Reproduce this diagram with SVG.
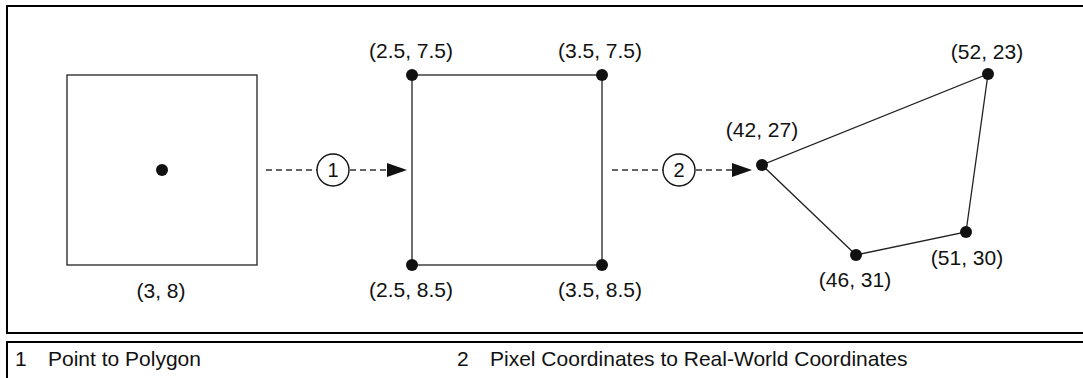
<svg xmlns="http://www.w3.org/2000/svg" width="1083" height="378" viewBox="0 0 1083 378">
  <style>
    .frame { fill: none; stroke: #000; stroke-width: 2; }
    .shape { fill: none; stroke: #222; stroke-width: 1.3; }
    .dot { fill: #111; }
    .dash { fill: none; stroke: #333; stroke-width: 1.4; stroke-dasharray: 6 4; }
    .head { fill: #111; }
    .badge { fill: #fff; stroke: #111; stroke-width: 1.4; }
    .lbl { font-family: "Liberation Sans", Arial, sans-serif; font-size: 21px; fill: #111; text-anchor: middle; }
    .num { font-family: "Liberation Sans", Arial, sans-serif; font-size: 20px; fill: #111; text-anchor: middle; }
    .cap { font-family: "Liberation Sans", Arial, sans-serif; font-size: 21px; fill: #111; }
  </style>
  <rect width="1083" height="378" fill="#fff"/>
  <!-- frames -->
  <path class="frame" d="M1090 6 H7 V333 H1090"/>
  <path class="frame" d="M1090 342 H7 V385"/>

  <g id="node-point">
    <rect class="shape" x="67" y="75" width="190" height="190"/>
    <circle class="dot" cx="162" cy="170" r="6"/>
    <text class="lbl" x="161" y="298">(3, 8)</text>
  </g>

  <g id="node-square">
    <rect class="shape" x="412" y="75" width="190" height="190"/>
    <circle class="dot" cx="412" cy="75" r="6"/>
    <circle class="dot" cx="602" cy="75" r="6"/>
    <circle class="dot" cx="412" cy="265" r="6"/>
    <circle class="dot" cx="602" cy="265" r="6"/>
    <text class="lbl" x="411" y="58">(2.5, 7.5)</text>
    <text class="lbl" x="600" y="58">(3.5, 7.5)</text>
    <text class="lbl" x="411" y="297">(2.5, 8.5)</text>
    <text class="lbl" x="600" y="297">(3.5, 8.5)</text>
  </g>

  <g id="node-polygon">
    <polygon class="shape" points="762,165 988,74 966,232 856,255"/>
    <circle class="dot" cx="762" cy="165" r="6"/>
    <circle class="dot" cx="988" cy="74" r="6"/>
    <circle class="dot" cx="966" cy="232" r="6"/>
    <circle class="dot" cx="856" cy="255" r="6"/>
    <text class="lbl" x="987" y="59">(52, 23)</text>
    <text class="lbl" x="762" y="137">(42, 27)</text>
    <text class="lbl" x="967" y="265">(51, 30)</text>
    <text class="lbl" x="855" y="287">(46, 31)</text>
  </g>

  <g id="connectors">
    <line class="dash" x1="266" y1="170" x2="317" y2="170"/>
    <line class="dash" x1="350" y1="170" x2="388" y2="170"/>
    <polygon class="head" points="387,163 407,170 387,177"/>
    <circle class="badge" cx="333" cy="170" r="16"/>
    <text class="num" x="333" y="177">1</text>

    <line class="dash" x1="612" y1="170" x2="663" y2="170"/>
    <line class="dash" x1="696" y1="170" x2="733" y2="170"/>
    <polygon class="head" points="732,163 752,170 732,177"/>
    <circle class="badge" cx="679" cy="170" r="16"/>
    <text class="num" x="679" y="177">2</text>
  </g>

  <g id="legend">
    <text class="cap" x="15" y="366">1</text>
    <text class="cap" x="48" y="366">Point to Polygon</text>
    <text class="cap" x="457" y="366">2</text>
    <text class="cap" x="490" y="366">Pixel Coordinates to Real-World Coordinates</text>
  </g>
</svg>
